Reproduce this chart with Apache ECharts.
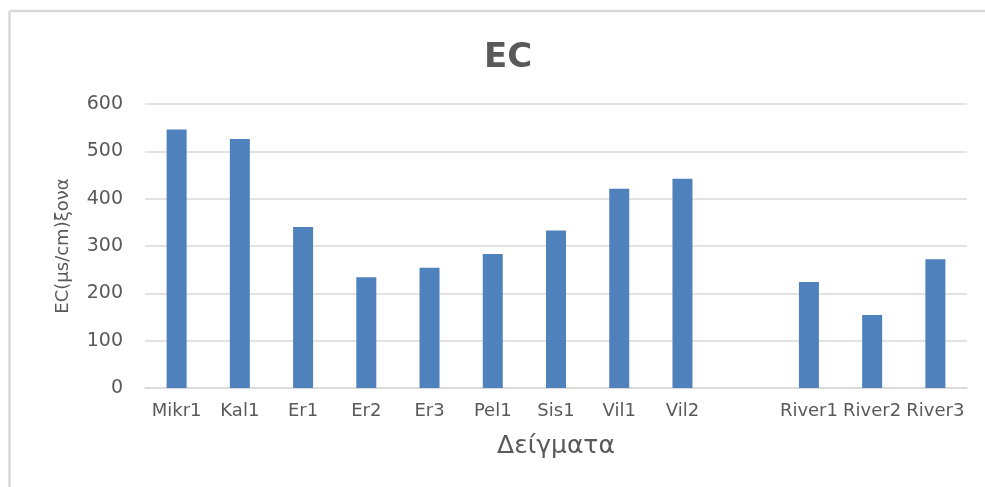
<!DOCTYPE html>
<html>
<head>
<meta charset="utf-8">
<script src="https://cdn.jsdelivr.net/npm/echarts@6/dist/echarts.min.js"></script>
<style>
html,body{margin:0;padding:0;background:#fff;overflow:hidden;}
#chart{width:985px;height:487px;}
</style>
</head>
<body>
<div id="chart"></div>
<script>
const categories = ['Mikr1','Kal1','Er1','Er2','Er3','Pel1','Sis1','Vil1','Vil2','','River1','River2','River3'];
const ecValues = [546, 526, 340, 234, 254, 283, 333, 421, 442, null, 224, 154, 272];
const yTicks = { min: 0, max: 600, interval: 100 };
const titleText = 'EC';
const xName = 'Δείγματα';
const yName = 'EC(μs/cm)ξονα';

const chart = echarts.init(document.getElementById('chart'), null, {renderer:'canvas'});
const labelColor = '#595959';
const font = 'DejaVu Sans';
chart.setOption({
  backgroundColor: '#ffffff',
  animation: false,
  graphic: [
    { type: 'line', shape: { x1: 9.5, y1: 11, x2: 985, y2: 11 }, style: { stroke: '#d9d9d9', lineWidth: 2.5 }, silent: true },
    { type: 'line', shape: { x1: 9.5, y1: 11, x2: 9.5, y2: 487 }, style: { stroke: '#d9d9d9', lineWidth: 2.5 }, silent: true }
  ],
  title: {
    text: titleText,
    left: 479,
    top: 36,
    textStyle: { fontFamily: font, fontSize: 34, fontWeight: 'bold', color: labelColor }
  },
  grid: { left: 145, right: 18, top: 104, bottom: 99, containLabel: false },
  xAxis: {
    type: 'category',
    data: categories,
    name: xName,
    nameLocation: 'middle',
    nameGap: 46,
    nameTextStyle: { fontFamily: font, fontSize: 25, color: labelColor },
    axisLine: { lineStyle: { color: '#d9d9d9', width: 1.5 } },
    axisTick: { show: false },
    axisLabel: { interval: 0, margin: 14, fontFamily: font, fontSize: 18, color: labelColor }
  },
  yAxis: {
    type: 'value',
    min: yTicks.min, max: yTicks.max, interval: yTicks.interval,
    name: yName,
    nameLocation: 'middle',
    nameGap: 73,
    nameRotate: 90,
    nameTextStyle: { fontFamily: font, fontSize: 18, color: labelColor },
    axisLine: { show: false },
    axisTick: { show: false },
    axisLabel: { margin: 22, fontFamily: font, fontSize: 19, color: labelColor },
    splitLine: { lineStyle: { color: '#d9d9d9', width: 1.5 } }
  },
  series: [{
    type: 'bar',
    data: ecValues,
    barWidth: 20,
    itemStyle: { color: '#4f81bd' }
  }]
});
</script>
</body>
</html>
